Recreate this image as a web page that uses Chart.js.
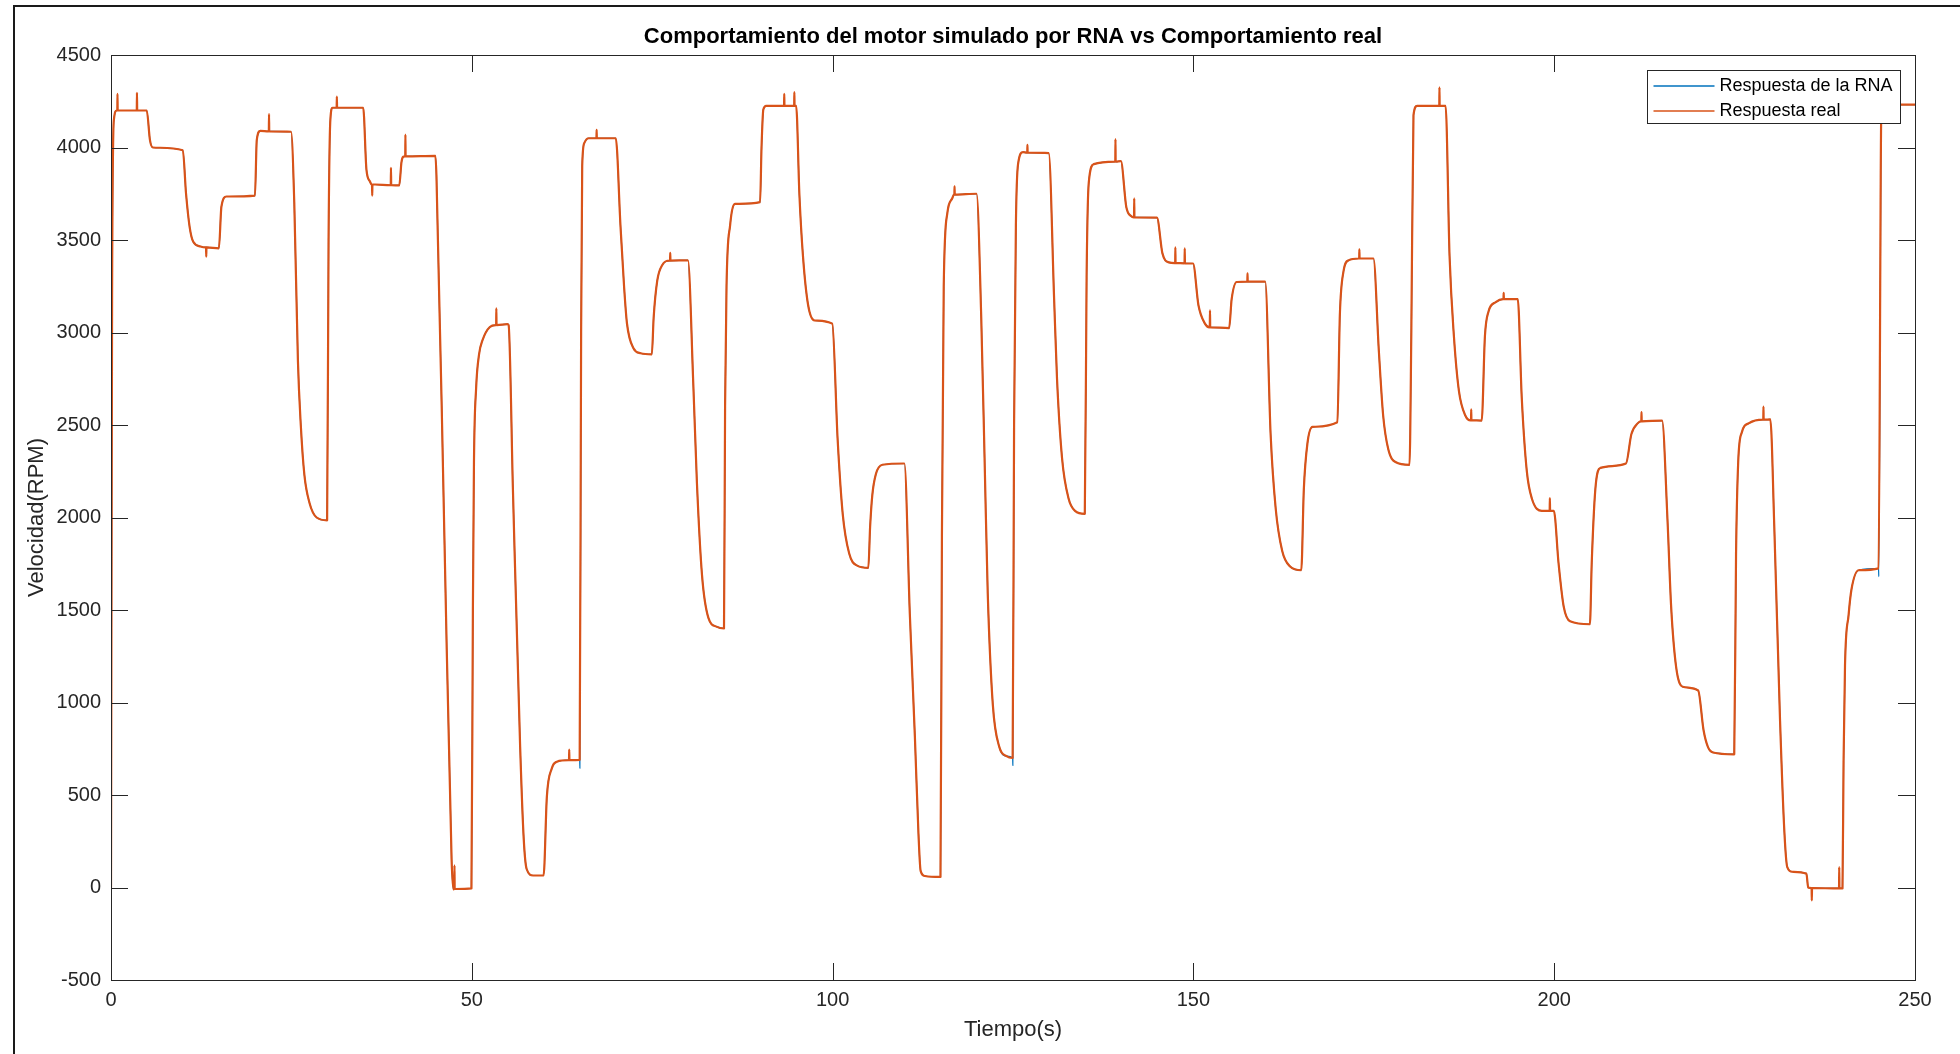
<!DOCTYPE html>
<html lang="es">
<head>
<meta charset="utf-8">
<title>Comportamiento del motor</title>
<script src="https://cdn.jsdelivr.net/npm/chart.js@4.4.0/dist/chart.umd.min.js"></script>
<style>
  html, body { margin: 0; padding: 0; background: #fff; }
  #contenedor { position: relative; width: 1960px; height: 1054px; }
  #marco {
    position: absolute; left: 13px; top: 5px; right: 0; bottom: 0;
    border-left: 2px solid #1a1a1a; border-top: 2px solid #1a1a1a;
    pointer-events: none;
  }
</style>
</head>
<body>
<div id="contenedor">
  <canvas id="graficaMotor"></canvas>
  <div id="marco"></div>
</div>
<script>
document.addEventListener('DOMContentLoaded', function () {
    "use strict";

    // Puntos de la respuesta (s, RPM), un renglon por cada escalon de 5 s
    var tiempo = [
        0, 0.15, 0.4, 0.8, 4.95,
        5.4, 5.8, 9.95,
        10.4, 10.9, 11.4, 12.4, 14.95,
        15.3, 16.0, 19.95,
        20.2, 20.7, 24.95,
        25.4, 25.9, 26.3, 26.8, 27.5, 28.5, 29.95,
        30.15, 30.4, 30.7, 34.95,
        35.4, 35.9, 36.6, 39.95,
        40.25, 40.5, 44.95,
        45.1, 46.2, 47.2, 47.45, 49.95,
        50.15, 50.3, 50.6, 51.0, 51.5, 52.5, 54.95,
        55.1, 55.7, 56.7, 57.2, 57.6, 58.5, 59.95,
        60.4, 61.1, 61.8, 64.95,
        65.15, 65.3, 65.6, 66.2, 69.95,
        70.6, 71.1, 71.5, 72.4, 73.4, 74.95,
        75.2, 75.7, 76.4, 79.95,
        80.7, 81.2, 81.9, 82.8, 83.9, 84.95,
        85.1, 85.3, 85.8, 86.5, 89.95,
        90.15, 90.4, 90.8, 94.95,
        95.4, 95.9, 96.6, 97.5, 99.95,
        100.7, 101.4, 102.3, 103.4, 104.95,
        105.2, 105.5, 106.0, 106.9, 109.95,
        110.7, 111.4, 111.9, 112.2, 112.8, 114.95,
        115.15, 115.4, 115.9, 116.6, 119.95,
        120.6, 121.1, 121.5, 122.2, 123.1, 124.1, 124.95,
        125.15, 125.4, 125.7, 126.4, 129.95,
        130.7, 131.1, 131.8, 132.7, 133.6, 134.95,
        135.2, 135.5, 136.2, 139.95,
        140.7, 141.4, 144.95,
        145.7, 146.6, 149.95,
        150.7, 151.6, 154.95,
        155.3, 156.0, 159.95,
        160.7, 161.4, 162.3, 163.4, 164.95,
        165.3, 165.8, 166.5, 169.95,
        170.3, 170.8, 171.5, 174.95,
        175.7, 176.3, 177.0, 178.0, 179.95,
        180.2, 180.5, 181.0, 184.95,
        185.5, 186.1, 186.8, 187.7, 189.95,
        190.4, 190.9, 191.9, 194.95,
        195.5, 196.2, 196.9, 198.3, 199.95,
        200.6, 201.3, 202.2, 204.95,
        205.2, 205.7, 206.4, 209.95,
        210.7, 211.6, 214.95,
        215.7, 216.2, 216.9, 217.8, 219.95,
        220.7, 221.3, 222.0, 224.95,
        225.2, 225.5, 226.0, 227.0, 229.95,
        230.5, 231.3, 231.9, 232.3, 233.0, 234.95,
        235.2, 239.95,
        240.1, 240.3, 240.8, 241.2, 242.2, 244.95,
        245.35, 250
    ];

    var rpm = [
        0, 3200, 4150, 4200, 4200,
        4040, 4000, 3985,
        3750, 3570, 3490, 3465, 3455,
        3680, 3735, 3740,
        4040, 4090, 4085,
        3700, 2850, 2500, 2230, 2080, 2000, 1985,
        3500, 4150, 4215, 4215,
        3880, 3815, 3800, 3795,
        3920, 3950, 3955,
        3850, 1900, 150, -10, -5,
        1500, 2300, 2700, 2880, 2960, 3030, 3045,
        3040, 2150, 760, 260, 100, 65, 65,
        490, 645, 680, 690,
        3000, 3900, 4025, 4050, 4050,
        3580, 3250, 3050, 2915, 2888, 2882,
        3080, 3280, 3365, 3390,
        2716, 2185, 1690, 1456, 1410, 1400,
        2600, 3250, 3580, 3695, 3705,
        4000, 4205, 4225, 4225,
        3745, 3410, 3150, 3065, 3048,
        2420, 2020, 1805, 1740, 1728,
        1950, 2120, 2235, 2285, 2292,
        1480, 818, 290, 90, 62, 57,
        1900, 3250, 3645, 3727, 3750,
        3080, 2250, 1590, 990, 760, 710, 700,
        2500, 3578, 3910, 3975, 3970,
        3180, 2750, 2320, 2103, 2036, 2020,
        3300, 3810, 3910, 3926,
        3678, 3628, 3621,
        3429, 3379, 3373,
        3147, 3048, 3024,
        3180, 3273, 3275,
        2450, 2050, 1820, 1735, 1715,
        2150, 2400, 2490, 2515,
        3100, 3330, 3390, 3400,
        2900, 2550, 2370, 2300, 2285,
        3000, 4175, 4225, 4225,
        3412, 2981, 2683, 2550, 2524,
        2981, 3114, 3164, 3180,
        2650, 2252, 2103, 2036, 2036,
        1754, 1522, 1439, 1423,
        1754, 2152, 2268, 2292,
        2451, 2510, 2524,
        1987, 1522, 1191, 1085, 1065,
        850, 760, 730, 720,
        1800, 2300, 2460, 2510, 2530,
        1950, 900, 300, 110, 85, 75,
        0, -5,
        680, 1200, 1474, 1612, 1715, 1725,
        4232, 4232
    ];

    // Picos de ruido de la medicion real: instante, nivel de la meseta y valor del pico
    var tPico = [
        0.9, 3.6, 13.2, 21.9, 31.3, 36.2, 38.8, 40.8, 47.6, 53.4,
        63.5, 67.3, 77.5, 93.3, 94.7, 116.9, 127.0, 139.2, 141.8, 147.5,
        148.8, 152.3, 157.5, 173.0, 184.1, 188.5, 193.0, 199.4, 212.1, 229.0,
        235.7, 239.5
    ];
    var nivelPico = [
        4200, 4200, 3460, 4087, 4215, 3800, 3796, 3952, -8, 3040,
        688, 4050, 3389, 4225, 4225, 3745, 3972, 3924, 3622, 3375,
        3374, 3028, 3275, 3400, 4225, 2525, 3180, 2036, 2520, 2529,
        -3, -5
    ];
    var rpmPico = [
        4290, 4295, 3410, 4180, 4275, 3740, 3890, 4070, 120, 3130,
        745, 4095, 3430, 4290, 4300, 3790, 4015, 4045, 3725, 3460,
        3455, 3120, 3320, 3450, 4325, 2585, 3215, 2105, 2570, 2600,
        -70, 110
    ];

    // Donde la salida de la RNA se separa de la medicion, justo antes del escalon
    var tCaidaRNA = [64.98, 124.98, 244.98];
    var rpmCaidaRNA = [645, 660, 1680];

    var tituloGrafica = 'Comportamiento del motor simulado por RNA vs Comportamiento real';
    var nombresSeries = ['Respuesta de la RNA', 'Respuesta real'];
    var coloresSeries = ['#0072BD', '#D95319'];

    // cada pico es un trazo vertical; los bordes planos dejan igual la curva de alrededor
    function puntosPicos(conPico) {
        var pts = [];
        for (var i = 0; i < tPico.length; i++) {
            var t = tPico[i], n = nivelPico[i];
            pts.push({ x: t - 0.08, y: n });
            pts.push({ x: t - 0.03, y: n });
            pts.push({ x: t, y: conPico ? rpmPico[i] : n });
            pts.push({ x: t + 0.03, y: n });
            pts.push({ x: t + 0.08, y: n });
        }
        return pts;
    }

    function unirPuntos(extra) {
        var pts = [];
        for (var i = 0; i < tiempo.length; i++) {
            pts.push({ x: tiempo[i], y: rpm[i] });
        }
        pts = pts.concat(extra);
        pts.sort(function (p, q) { return p.x - q.x; });
        return pts;
    }

    var caidasRNA = tCaidaRNA.map(function (t, i) { return { x: t, y: rpmCaidaRNA[i] }; });
    var puntosRNA = unirPuntos(puntosPicos(false).concat(caidasRNA));
    var puntosReal = unirPuntos(puntosPicos(true));

    Chart.defaults.font.family = "'Liberation Sans', Arial, Helvetica, sans-serif";

    // titulo centrado sobre el area de los ejes
    var tituloEjes = {
        id: 'tituloEjes',
        afterDraw: function (chart) {
            var ctx = chart.ctx;
            var a = chart.chartArea;
            ctx.save();
            ctx.fillStyle = '#000000';
            ctx.font = "bold 22px 'Liberation Sans', Arial, sans-serif";
            ctx.textAlign = 'center';
            ctx.textBaseline = 'middle';
            ctx.fillText(tituloGrafica, (a.left + a.right) / 2, 37);
            ctx.restore();
        }
    };

    // caja del eje con marcas hacia adentro en los cuatro lados
    var cajaEjes = {
        id: 'cajaEjes',
        afterDatasetsDraw: function (chart) {
            var ctx = chart.ctx;
            var a = chart.chartArea;
            var sx = chart.scales.x;
            var sy = chart.scales.y;
            var largo = 17;
            ctx.save();
            ctx.strokeStyle = '#262626';
            ctx.lineWidth = 1;
            ctx.beginPath();
            sx.ticks.forEach(function (t) {
                var px = Math.round(sx.getPixelForValue(t.value)) + 0.5;
                ctx.moveTo(px, a.bottom);
                ctx.lineTo(px, a.bottom - largo);
                ctx.moveTo(px, a.top);
                ctx.lineTo(px, a.top + largo);
            });
            sy.ticks.forEach(function (t) {
                var py = Math.round(sy.getPixelForValue(t.value)) + 0.5;
                ctx.moveTo(a.left, py);
                ctx.lineTo(a.left + largo, py);
                ctx.moveTo(a.right, py);
                ctx.lineTo(a.right - largo, py);
            });
            ctx.stroke();
            ctx.strokeRect(Math.round(a.left) + 0.5, Math.round(a.top) + 0.5,
                Math.round(a.right - a.left), Math.round(a.bottom - a.top));
            ctx.restore();
        }
    };

    // leyenda en la esquina superior derecha, con recuadro
    var leyendaCaja = {
        id: 'leyendaCaja',
        afterDraw: function (chart) {
            var ctx = chart.ctx;
            var a = chart.chartArea;
            var ancho = 253, alto = 53;
            var x0 = Math.round(a.right) - 15 - ancho + 0.5;
            var y0 = Math.round(a.top) + 15 + 0.5;
            ctx.save();
            ctx.fillStyle = '#ffffff';
            ctx.fillRect(x0, y0, ancho, alto);
            ctx.strokeStyle = '#262626';
            ctx.lineWidth = 1;
            ctx.strokeRect(x0, y0, ancho, alto);
            ctx.font = "18px 'Liberation Sans', Arial, sans-serif";
            ctx.textBaseline = 'middle';
            ctx.textAlign = 'left';
            chart.data.datasets.forEach(function (ds, i) {
                var yy = y0 + 15.5 + i * 25;
                ctx.strokeStyle = ds.borderColor;
                ctx.lineWidth = 1.5;
                ctx.beginPath();
                ctx.moveTo(x0 + 6, yy);
                ctx.lineTo(x0 + 67, yy);
                ctx.stroke();
                ctx.fillStyle = '#000000';
                ctx.fillText(ds.label, x0 + 72, yy);
            });
            ctx.restore();
        }
    };

    var ctx = document.getElementById('graficaMotor');

    new Chart(ctx, {
        type: 'line',
        data: {
            datasets: [{
                label: nombresSeries[0],
                data: puntosRNA,
                borderColor: coloresSeries[0],
                borderWidth: 1.2,
                order: 1
            }, {
                label: nombresSeries[1],
                data: puntosReal,
                borderColor: coloresSeries[1],
                borderWidth: 2.2,
                order: 0
            }]
        },
        options: {
            responsive: true,
            maintainAspectRatio: false,
            animation: false,
            elements: {
                point: { radius: 0 },
                line: { cubicInterpolationMode: 'monotone', borderJoinStyle: 'round', fill: false }
            },
            layout: {
                padding: { left: 0, right: 45, top: 55, bottom: 0 }
            },
            plugins: {
                legend: { display: false },
                tooltip: { enabled: false },
                title: { display: false }
            },
            scales: {
                x: {
                    type: 'linear',
                    min: 0,
                    max: 250,
                    grid: { display: false, drawTicks: false },
                    border: { display: false },
                    ticks: {
                        stepSize: 50,
                        color: '#262626',
                        font: { size: 20 },
                        padding: 8,
                        maxRotation: 0,
                        callback: function (v) { return String(v); }
                    },
                    title: {
                        display: true,
                        text: 'Tiempo(s)',
                        color: '#262626',
                        font: { size: 22 },
                        padding: { top: 0, bottom: 11 }
                    },
                    afterFit: function (scale) { scale.height = 74; }
                },
                y: {
                    type: 'linear',
                    min: -500,
                    max: 4500,
                    grid: { display: false, drawTicks: false },
                    border: { display: false },
                    ticks: {
                        stepSize: 500,
                        color: '#262626',
                        font: { size: 20 },
                        padding: 10,
                        callback: function (v) { return String(v); }
                    },
                    title: {
                        display: true,
                        text: 'Velocidad(RPM)',
                        color: '#262626',
                        font: { size: 22 },
                        padding: { top: 24, bottom: 0 }
                    },
                    afterFit: function (scale) { scale.width = 111; }
                }
            }
        },
        plugins: [cajaEjes, leyendaCaja, tituloEjes]
    });
});
</script>
</body>
</html>
